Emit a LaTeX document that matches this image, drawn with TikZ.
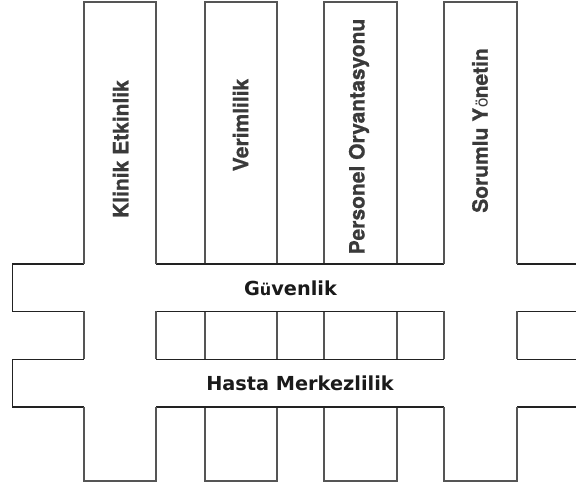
\documentclass[tikz,border=0pt]{standalone}
\usepackage{fontspec}
\setmainfont{TeX Gyre Heros}
\newfontfamily\vfont{TeX Gyre Heros}[BoldFeatures={FakeBold=0.8}]
\newfontfamily\hfont{DejaVu Sans}
\definecolor{vline}{HTML}{555555}
\definecolor{hline}{HTML}{222222}
\definecolor{vtext}{HTML}{3A3A3A}
\definecolor{htext}{HTML}{1A1A1A}
\tikzset{
  vstrip/.style={draw=vline, line width=1.4pt, fill=white},
  hstrip/.style={draw=hline, line width=1.6pt, fill=white},
  vedge/.style={draw=vline, line width=1.4pt},
  vlabel/.style={rotate=90, text=vtext, inner sep=0pt, font=\vfont\bfseries\fontsize{21}{24}\selectfont},
  hlabel/.style={text=htext, inner sep=0pt, font=\hfont\bfseries\fontsize{19.3}{22}\selectfont}
}
\begin{document}
\begin{tikzpicture}[x=1pt,y=1pt]
\useasboundingbox (0,0) rectangle (576,489);
\begin{scope}
\clip (0,0) rectangle (576,489);
% strips that pass under
\draw[vstrip] (205,8) rectangle (277,487);
\draw[vstrip] (324,8) rectangle (397,487);
% horizontal strips
\draw[hstrip] (12.3,177.5) rectangle (600,225);
\draw[hstrip] (12.3,82) rectangle (600,129.5);
% strips that pass over
\fill[white] (84,8) rectangle (156,487);
\fill[white] (444,8) rectangle (517,487);
\draw[vedge] (84,225) -- (84,487) -- (156,487) -- (156,225);
\draw[vedge] (84,177.5) -- (84,129.5);
\draw[vedge] (156,177.5) -- (156,129.5);
\draw[vedge] (84,82) -- (84,8) -- (156,8) -- (156,82);
\draw[vedge] (444,225) -- (444,487) -- (517,487) -- (517,225);
\draw[vedge] (444,177.5) -- (444,129.5);
\draw[vedge] (517,177.5) -- (517,129.5);
\draw[vedge] (444,82) -- (444,8) -- (517,8) -- (517,82);
\end{scope}
% labels
\node[vlabel] (klinik) at (120.5,340) {Klinik Etkinlik};
\node[vlabel] (verim) at (240.5,364) {Verimlilik};
\node[vlabel] (personel) at (359,352.5) {Personel Oryantasyonu};
\node[vlabel] (sorumlu) at (480,358.5) {Sorumlu Y{\mdseries\fontsize{17}{20}\selectfont ö}netin};
\node[hlabel] (guven) at (290.5,200.5) {G{\fontsize{16}{20}\selectfont ü}venlik};
\node[hlabel] (hasta) at (300,105.5) {Hasta Merkezlilik};
\end{tikzpicture}
\end{document}
